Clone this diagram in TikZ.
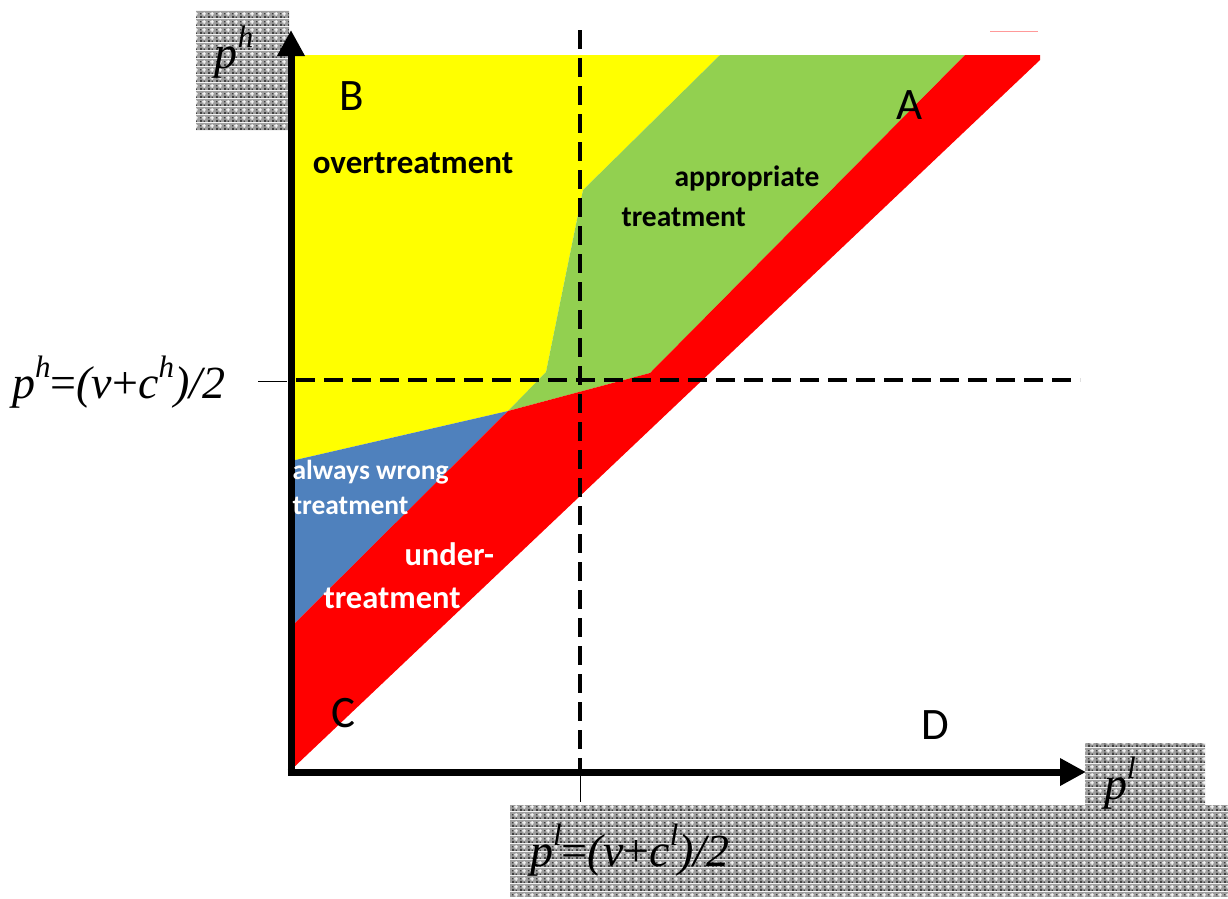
\documentclass[tikz,border=0pt]{standalone}
\usepackage{fontspec}
\setmainfont{Liberation Serif}
\setsansfont{Carlito}
\usepackage{tikz}
\usetikzlibrary{arrows.meta,positioning,patterns}
\definecolor{overY}{HTML}{FFFF00}
\definecolor{apprG}{HTML}{92D050}
\definecolor{underR}{HTML}{FF0000}
\definecolor{wrongB}{HTML}{4F81BD}
\pgfdeclarepatterninherentlycolored{cheq}{\pgfpointorigin}{\pgfqpoint{8pt}{8pt}}{\pgfqpoint{8pt}{8pt}}{%
  \pgfsetfillcolor{gray!75}%
  \pgfpathrectangle{\pgfpointorigin}{\pgfqpoint{8pt}{8pt}}\pgfusepath{fill}%
  \pgfsetfillcolor{black!75}%
  \pgfpathrectangle{\pgfpointorigin}{\pgfqpoint{2.5pt}{2.5pt}}%
  \pgfpathrectangle{\pgfqpoint{4pt}{0pt}}{\pgfqpoint{1.5pt}{1.5pt}}%
  \pgfpathrectangle{\pgfqpoint{0pt}{4pt}}{\pgfqpoint{1.5pt}{1.5pt}}\pgfusepath{fill}%
  \pgfsetfillcolor{white}%
  \pgfpathrectangle{\pgfqpoint{4pt}{2.5pt}}{\pgfqpoint{1.2pt}{4pt}}%
  \pgfpathrectangle{\pgfqpoint{2.5pt}{4pt}}{\pgfqpoint{4pt}{1.2pt}}\pgfusepath{fill}}
\newcommand{\hsup}[1]{\raisebox{0.45em}{\fontsize{31}{31}\selectfont#1}}

\begin{document}
\begin{tikzpicture}[x=1pt,y=-1pt,
  axis/.style={line width=7pt,-{Triangle[length=26pt,width=26pt]}},
  half/.style={line width=3.5pt,dash pattern=on 19pt off 9pt},
  tick/.style={line width=1pt},
  lett/.style={font=\sffamily\fontsize{45}{50}\selectfont},
  reg/.style={font=\sffamily\bfseries\fontsize{27.5}{35}\selectfont,align=left},
  eq/.style={font=\fontsize{46}{50}\selectfont\itshape,inner sep=0pt},
  grid/.style={pattern=cheq}]
\useasboundingbox (0,0) rectangle (1228,898);
% label boxes
\fill[grid] (196,10) rectangle (289,130);
\fill[grid] (1085,743) rectangle (1205,805);
\fill[grid] (510,805) rectangle (1228,896);
% regions
\fill[overY] (291,55) -- (720,55) -- (583,190) -- (546,372) -- (508,411) -- (291,461) -- cycle;
\fill[apprG] (720,55) -- (965,55) -- (650,373) -- (508,411) -- (546,372) -- (583,190) -- cycle;
\fill[wrongB] (291,461) -- (508,411) -- (291,627) -- cycle;
\fill[underR] (291,627) -- (508,411) -- (650,373) -- (965,55) -- (1040,55) -- (1040,60) -- (291,770) -- cycle;
\draw[underR!40,line width=1pt] (990,31) -- (1038,31);
% dashed thresholds
\coordinate (vtop) at (580,30);
\coordinate (vbot) at (580,775);
\coordinate (vend) at (580,802);
\coordinate (hleft) at (296,380);
\coordinate (hright) at (1080,380);
\coordinate (hstub) at (258,381);
\coordinate (haxis) at (287,381);
\draw[half] (vtop) -- (vbot);
\draw[tick] (vbot) -- (vend);
\draw[half] (hleft) -- (hright);
\draw[tick] (hstub) -- (haxis);
% axes
\coordinate (O) at (291,772);
\coordinate (ytip) at (291,30);
\coordinate (xtip) at (1086,772);
\draw[axis] ([yshift=3.5pt]O) -- (ytip);
\draw[axis] ([xshift=-3.5pt]O) -- (xtip);
% corners
\node[lett] (B) at (352,96) {B};
\node[lett] (A) at (910,105) {A};
\node[lett] (C) at (343,713) {C};
\node[lett] (D) at (935,725) {D};
% region names
\node[reg,font=\sffamily\bfseries\fontsize{33}{38}\selectfont] (over) at (413,163) {overtreatment};
\node[reg,anchor=west,font=\sffamily\bfseries\fontsize{29.5}{40}\selectfont] (appr) at (618,196) {\hspace*{53pt}appropriate\\treatment};
\node[reg,text=white,anchor=west] (wrong) at (289,487) {always wrong\\treatment};
\node[reg,text=white,anchor=west,font=\sffamily\bfseries\fontsize{32.5}{43}\selectfont] (under) at (320,576) {\hspace*{81pt}under-\\treatment};
% axis labels
\node[eq] (ph) at (234,52) {p\hsup{h}};
\node[eq] (pl) at (1120,783) {p\hsup{l}};
\node[eq,anchor=west] (phval) at (12,382) {p\hsup{h}\upshape=\itshape(v\upshape+\itshape c\hsup{h})/2};
\node[eq,anchor=west] (plval) at (530,850) {p\hsup{l}\upshape=\itshape(v\upshape+\itshape c\hsup{l})/2};
\end{tikzpicture}
\end{document}
